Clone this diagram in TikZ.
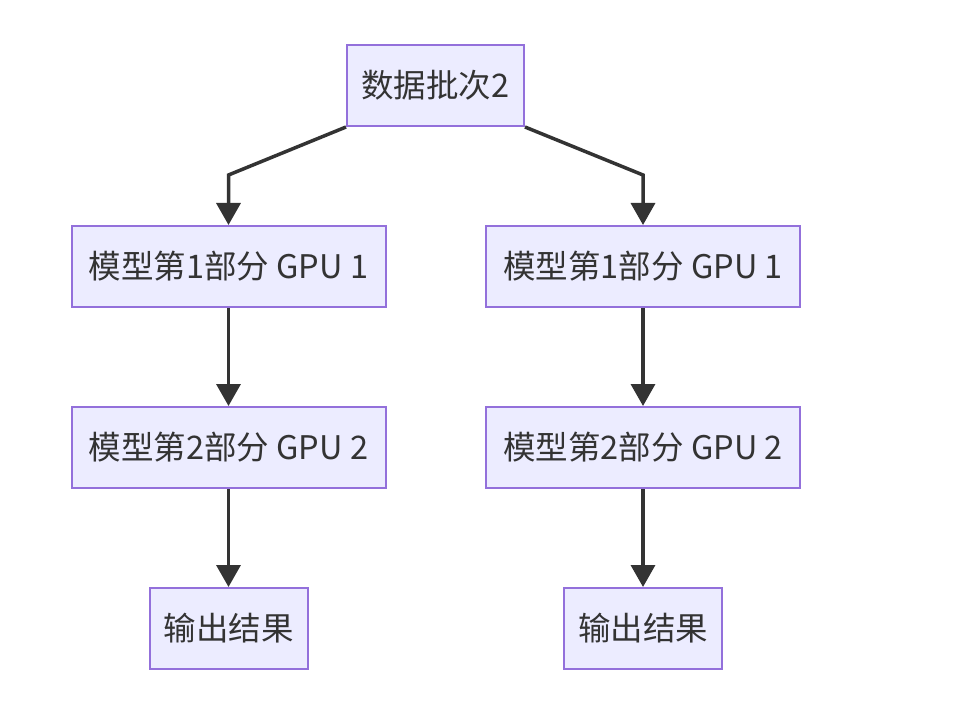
\documentclass[tikz,border=0pt]{standalone}
\usepackage{fontspec}
\setmainfont{Noto Sans CJK SC}
\usetikzlibrary{arrows.meta}
\definecolor{boxfill}{HTML}{ECECFF}
\definecolor{boxline}{HTML}{9370DB}
\definecolor{ink}{HTML}{333333}
\begin{document}
\begin{tikzpicture}[x=1pt,y=-1pt,
  box/.style={draw=boxline,fill=boxfill,line width=2pt,minimum height=81pt,inner sep=0pt,
    text=ink,font=\fontsize{32.5}{38}\selectfont},
  conn/.style={draw=ink,line width=3.5pt,-{Triangle[length=22pt,width=24pt]}}]
\useasboundingbox[fill=white] (0,0) rectangle (971,708);
\node[box,minimum width=177pt] (top) at (435.5,85.5) {数据批次2};
\node[box,minimum width=314pt] (l1) at (228.5,266.5) {模型第1部分 GPU 1};
\node[box,minimum width=314pt] (l2) at (228.5,447.5) {模型第2部分 GPU 2};
\node[box,minimum width=158pt] (l3) at (228.5,628.5) {输出结果};
\node[box,minimum width=314pt] (r1) at (643,266.5) {模型第1部分 GPU 1};
\node[box,minimum width=314pt] (r2) at (643,447.5) {模型第2部分 GPU 2};
\node[box,minimum width=158pt] (r3) at (643,628.5) {输出结果};
\coordinate (lb) at (228.5,175);
\coordinate (rb) at (643,175);
\draw[conn] (top.south west) -- (lb) -- (l1.north);
\draw[conn] (top.south east) -- (rb) -- (r1.north);
\draw[conn] (l1) -- (l2);
\draw[conn] (l2) -- (l3);
\draw[conn] (r1) -- (r2);
\draw[conn] (r2) -- (r3);
\end{tikzpicture}
\end{document}
